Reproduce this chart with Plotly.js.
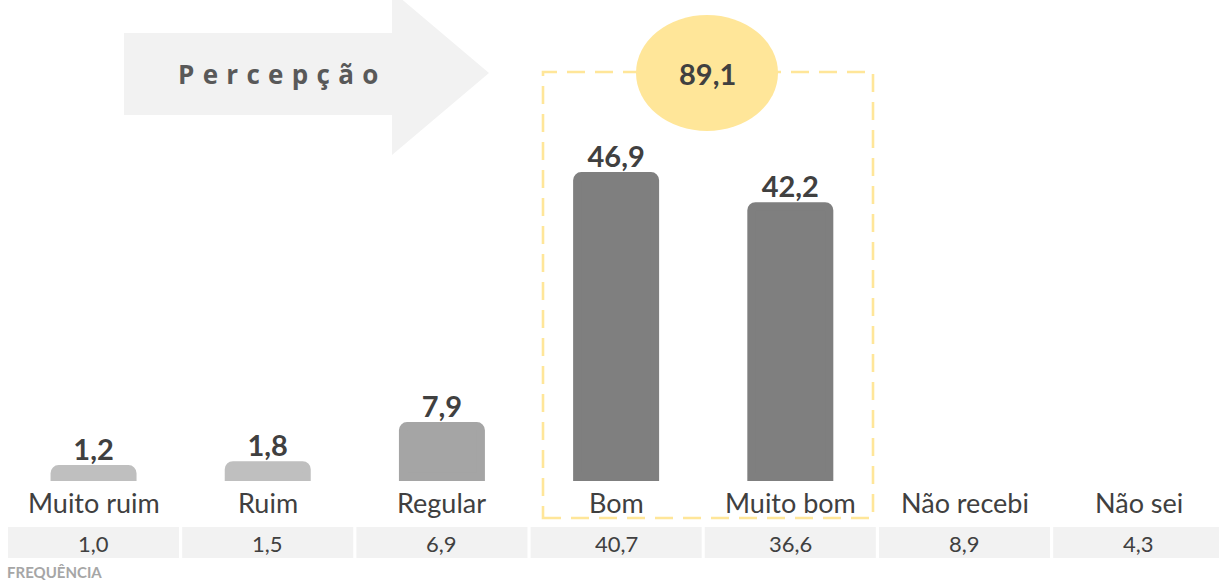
<!DOCTYPE html>
<html>
<head>
<meta charset="utf-8">
<script src="https://cdn.plot.ly/plotly-3.0.1.min.js"></script>
<style>
  html, body { margin: 0; padding: 0; background: #ffffff; }
  #chart { width: 1219px; height: 582px; }
</style>
</head>
<body>
<div id="chart"></div>
<script>
// ---- data ----
const categories = ["Muito ruim", "Ruim", "Regular", "Bom", "Muito bom", "Não recebi", "Não sei"];
const percepcao = [1.2, 1.8, 7.9, 46.9, 42.2, null, null];
const frequencia = [1.0, 1.5, 6.9, 40.7, 36.6, 8.9, 4.3];
const grupoPositivo = ["Bom", "Muito bom"];
const rotuloSeta = "Percepção";
const rotuloFrequencia = "FREQUÊNCIA";

// ---- style ----
const W = 1219, H = 582;
const barColors = ["#bfbfbf", "#bfbfbf", "#a5a5a5", "#7f7f7f", "#7f7f7f", "#7f7f7f", "#7f7f7f"];
const textDark = "#404040";
const px = x => x / W;
const py = y => 1 - y / H;
const fmt = v => v.toFixed(1).replace(".", ",");

const positivo = categories.reduce((s, c, i) => grupoPositivo.includes(c) ? s + percepcao[i] : s, 0);

const barTrace = {
  type: "bar",
  x: categories,
  y: percepcao,
  width: 0.446,
  marker: {
    color: barColors,
    cornerradius: 4,
    line: { color: barColors, width: 8.3 }
  },
  text: percepcao.map(v => v == null ? "" : fmt(v)),
  textposition: "outside",
  constraintext: "none",
  cliponaxis: false,
  textfont: { family: "Lato", size: 29, color: textDark, weight: 700 },
  hoverinfo: "skip"
};

const shapes = [];
// arrow
shapes.push({
  type: "path", xref: "paper", yref: "paper", layer: "below",
  path: `M ${px(124)} ${py(33)} L ${px(392)} ${py(33)} L ${px(392)} ${py(-9)} L ${px(489)} ${py(73)} L ${px(392)} ${py(155)} L ${px(392)} ${py(115)} L ${px(124)} ${py(115)} Z`,
  fillcolor: "#f2f2f2", line: { width: 0 }
});
// dashed frame around positive group
shapes.push({
  type: "rect", xref: "paper", yref: "paper", layer: "below",
  x0: px(543), x1: px(873), y0: py(518), y1: py(72),
  fillcolor: "rgba(0,0,0,0)",
  line: { color: "#ffe699", width: 2.6, dash: "18px,10px" }
});
// ellipse
shapes.push({
  type: "circle", xref: "paper", yref: "paper", layer: "below",
  x0: px(636), x1: px(778), y0: py(131), y1: py(15),
  fillcolor: "#ffe699", line: { width: 0 }
});
// frequency cells
categories.forEach((c, i) => {
  shapes.push({
    type: "rect", xref: "x", yref: "paper", layer: "below",
    x0: i - 0.491, x1: i + 0.491, y0: py(558), y1: py(527),
    fillcolor: "#f2f2f2", line: { width: 0 }
  });
});

const annotations = [];
annotations.push({
  xref: "paper", yref: "paper", x: px(176), y: py(74),
  xanchor: "left", yanchor: "middle", align: "left",
  text: rotuloSeta, showarrow: false,
  font: { family: "Open Sans", size: 26, color: "#595959", weight: 700 }
});
annotations.push({
  xref: "paper", yref: "paper", x: px(707), y: py(73),
  xanchor: "center", yanchor: "middle",
  text: fmt(positivo), showarrow: false,
  font: { family: "Lato", size: 29, color: textDark, weight: 700 }
});
categories.forEach((c, i) => {
  annotations.push({
    xref: "x", yref: "paper", x: i, y: py(502),
    xanchor: "center", yanchor: "middle",
    text: c, showarrow: false,
    font: { family: "Lato", size: 27, color: textDark }
  });
  annotations.push({
    xref: "x", yref: "paper", x: i, y: py(543),
    xanchor: "center", yanchor: "middle",
    text: fmt(frequencia[i]), showarrow: false,
    font: { family: "Lato", size: 22, color: textDark }
  });
});
annotations.push({
  xref: "paper", yref: "paper", x: px(6), y: py(572),
  xanchor: "left", yanchor: "middle", borderpad: 0,
  text: rotuloFrequencia, showarrow: false,
  font: { family: "Lato", size: 15, color: "#a6a6a6", weight: 700 }
});

const layout = {
  width: W, height: H,
  margin: { l: 0, r: 0, t: 0, b: 0, pad: 0 },
  paper_bgcolor: "#ffffff", plot_bgcolor: "#ffffff",
  showlegend: false,
  separators: ",.",
  xaxis: { range: [-0.537, 6.461], showticklabels: false, showgrid: false, zeroline: false, showline: false, ticks: "", fixedrange: true },
  yaxis: { range: [-16.40, 74.39], showticklabels: false, showgrid: false, zeroline: false, showline: false, ticks: "", fixedrange: true },
  shapes: shapes,
  annotations: annotations
};

Plotly.newPlot("chart", [barTrace], layout, { displayModeBar: false, staticPlot: true }).then(() => {
  document.querySelectorAll("#chart text").forEach(t => {
    if (t.textContent === rotuloSeta) t.style.letterSpacing = "8.3px";
  });
});
</script>
</body>
</html>
